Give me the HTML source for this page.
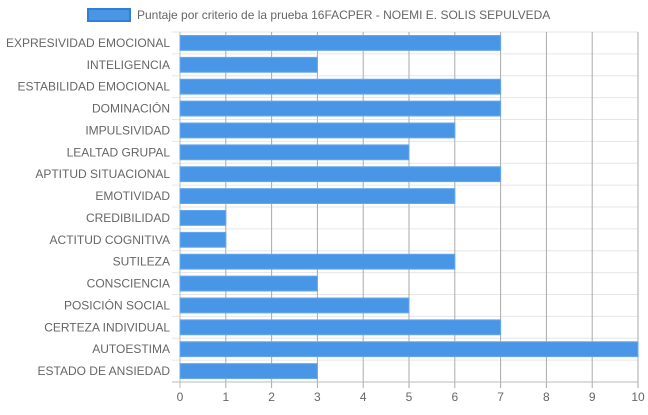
<!DOCTYPE html>
<html><head><meta charset="utf-8"><style>
body{margin:0;background:#fff;width:648px;height:410px;overflow:hidden}
svg{font-family:"Liberation Sans",sans-serif;}
</style></head><body>
<svg id="chart" width="648" height="410">
<rect x="88" y="9" width="42" height="12" fill="#4996e6" stroke="#2f7fd8" stroke-width="2"/>
<text x="137" y="19" font-size="12" fill="#666">Puntaje por criterio de la prueba 16FACPER - NOEMI E. SOLIS SEPULVEDA</text>
<g id="grid"></g><g id="bars"></g><g id="labels"></g>
</svg>
<script>
const categories=["EXPRESIVIDAD EMOCIONAL","INTELIGENCIA","ESTABILIDAD EMOCIONAL","DOMINACIÓN","IMPULSIVIDAD","LEALTAD GRUPAL","APTITUD SITUACIONAL","EMOTIVIDAD","CREDIBILIDAD","ACTITUD COGNITIVA","SUTILEZA","CONSCIENCIA","POSICIÓN SOCIAL","CERTEZA INDIVIDUAL","AUTOESTIMA","ESTADO DE ANSIEDAD"];
const values=[7,3,7,7,6,5,7,6,1,1,6,3,5,7,10,3];
const ticks=[0,1,2,3,4,5,6,7,8,9,10];
const NS="http://www.w3.org/2000/svg";
const L=180,R=638,T=32,B=382,max=10;
const x=v=>L+(R-L)*v/max;
const rowH=(B-T)/categories.length;
const y=i=>T+rowH*i;
function mk(tag,attrs,parent){const e=document.createElementNS(NS,tag);for(const k in attrs)e.setAttribute(k,attrs[k]);document.getElementById(parent).appendChild(e);return e;}
for(let i=0;i<=categories.length;i++){
 const e=mk('line',{x1:L-8,x2:R,y1:y(i),y2:y(i),stroke:'#e6e6e6'},'grid');
 
 
}
ticks.forEach(t=>{
 const e=mk('line',{x1:x(t),x2:x(t),y1:T,y2:B+6,stroke:t==0?'#bbb':'#aaa'},'grid');
 
 
 const tx=mk('text',{x:x(t),y:B+19,'font-size':12,fill:'#666','text-anchor':'middle'},'labels');
 tx.textContent=t;
 
 
});
const ax=mk('line',{x1:L-8,x2:R,y1:B,y2:B,stroke:'#bbb'},'grid');


categories.forEach((c,i)=>{
 const b=mk('rect',{x:L,y:y(i)+3.5,width:x(values[i])-L,height:rowH-7,fill:'#4996e6',stroke:'#66a8ee','stroke-width':1},'bars');
 
 
 const t=mk('text',{x:L-10,y:y(i)+rowH/2+4,'font-size':12,fill:'#666','text-anchor':'end'},'labels');
 t.textContent=c;
 
 
});
</script>
</body></html>
